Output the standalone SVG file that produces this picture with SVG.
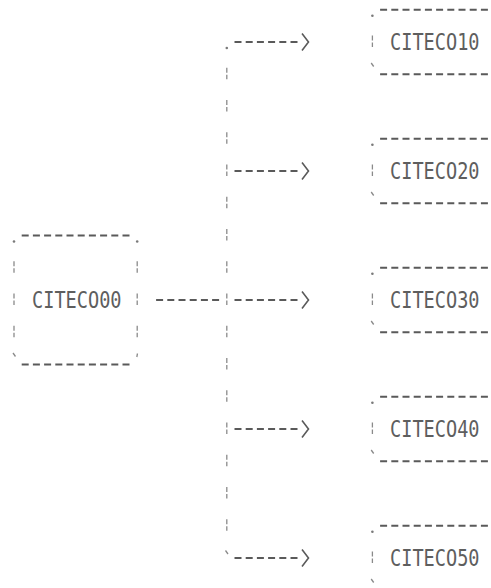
<svg xmlns="http://www.w3.org/2000/svg" width="491" height="588" viewBox="0 0 491 588">
<style>
.bg{fill:#ffffff}
.dash{fill:none;stroke:#5a5a5a;stroke-width:2;stroke-dasharray:7 4.2}
.bar{fill:none;stroke:#8a8a8a;stroke-width:1.3;stroke-dasharray:5 2 4.5 20.75}
.dot{fill:#7a7a7a}
.tick{fill:none;stroke:#8a8a8a;stroke-width:1.3}
.lbl{font-family:"DejaVu Sans Mono","Liberation Mono",monospace;font-size:18.6px;fill:#5e5e5e}
</style>
<defs>
<marker id="chev" markerUnits="userSpaceOnUse" markerWidth="14" markerHeight="20" refX="0" refY="10" orient="auto" overflow="visible">
<path d="M4.5 1.5 L11 10 L4.5 18.5" fill="none" stroke="#5a5a5a" stroke-width="1.6" stroke-dasharray="none"/>
</marker>
</defs>
<rect class="bg" x="0" y="0" width="491" height="588"/>

<g id="connectors">
<circle class="dot" cx="226.8" cy="48" r="1.3"/>
<path class="bar" d="M226.8 67.75 V530.75"/>
<path class="tick" d="M225.5 550.5 L228 554"/>
<path class="dash" d="M156.1 300 H219.1"/>
<path class="dash" d="M234.5 42 H297.5" marker-end="url(#chev)"/>
<path class="dash" d="M234.5 171 H297.5" marker-end="url(#chev)"/>
<path class="dash" d="M234.5 300 H297.5" marker-end="url(#chev)"/>
<path class="dash" d="M234.5 429 H297.5" marker-end="url(#chev)"/>
<path class="dash" d="M234.5 558 H297.5" marker-end="url(#chev)"/>
</g>

<g id="node-citeco00">
<path class="dash" d="M21.7 235.5 H129.5"/>
<path class="dash" d="M21.7 364.5 H129.5"/>
<circle class="dot" cx="14" cy="241.5" r="1.3"/>
<circle class="dot" cx="137.2" cy="241.5" r="1.3"/>
<path class="bar" d="M14 261.25 V337.5"/>
<path class="bar" d="M137.2 261.25 V337.5"/>
<path class="tick" d="M13 353 L15.5 356.5"/>
<path class="tick" d="M137.5 353.5 L136.8 357"/>
<text class="lbl" transform="translate(32 308.4) scale(1 1.24)">CITECO00</text>
</g>

<g id="node-citeco10">
<path class="dash" d="M380.1 9.75 H499"/>
<circle class="dot" cx="372.4" cy="15.75" r="1.3"/>
<path class="bar" d="M372.4 35.5 V47"/>
<path class="tick" d="M371.2 63 L373.7 66.5"/>
<path class="dash" d="M380.1 74.25 H499"/>
<text class="lbl" transform="translate(390 50.4) scale(1 1.24)">CITECO10</text>
</g>

<g id="node-citeco20">
<path class="dash" d="M380.1 138.75 H499"/>
<circle class="dot" cx="372.4" cy="144.75" r="1.3"/>
<path class="bar" d="M372.4 164.5 V176"/>
<path class="tick" d="M371.2 192 L373.7 195.5"/>
<path class="dash" d="M380.1 203.25 H499"/>
<text class="lbl" transform="translate(390 179.4) scale(1 1.24)">CITECO20</text>
</g>

<g id="node-citeco30">
<path class="dash" d="M380.1 267.75 H499"/>
<circle class="dot" cx="372.4" cy="273.75" r="1.3"/>
<path class="bar" d="M372.4 293.5 V305"/>
<path class="tick" d="M371.2 321 L373.7 324.5"/>
<path class="dash" d="M380.1 332.25 H499"/>
<text class="lbl" transform="translate(390 308.4) scale(1 1.24)">CITECO30</text>
</g>

<g id="node-citeco40">
<path class="dash" d="M380.1 396.75 H499"/>
<circle class="dot" cx="372.4" cy="402.75" r="1.3"/>
<path class="bar" d="M372.4 422.5 V434"/>
<path class="tick" d="M371.2 450 L373.7 453.5"/>
<path class="dash" d="M380.1 461.25 H499"/>
<text class="lbl" transform="translate(390 437.4) scale(1 1.24)">CITECO40</text>
</g>

<g id="node-citeco50">
<path class="dash" d="M380.1 525.75 H499"/>
<circle class="dot" cx="372.4" cy="531.75" r="1.3"/>
<path class="bar" d="M372.4 551.5 V563"/>
<path class="tick" d="M371.2 579 L373.7 582.5"/>
<path class="dash" d="M380.1 590.25 H499"/>
<text class="lbl" transform="translate(390 566.4) scale(1 1.24)">CITECO50</text>
</g>
</svg>
